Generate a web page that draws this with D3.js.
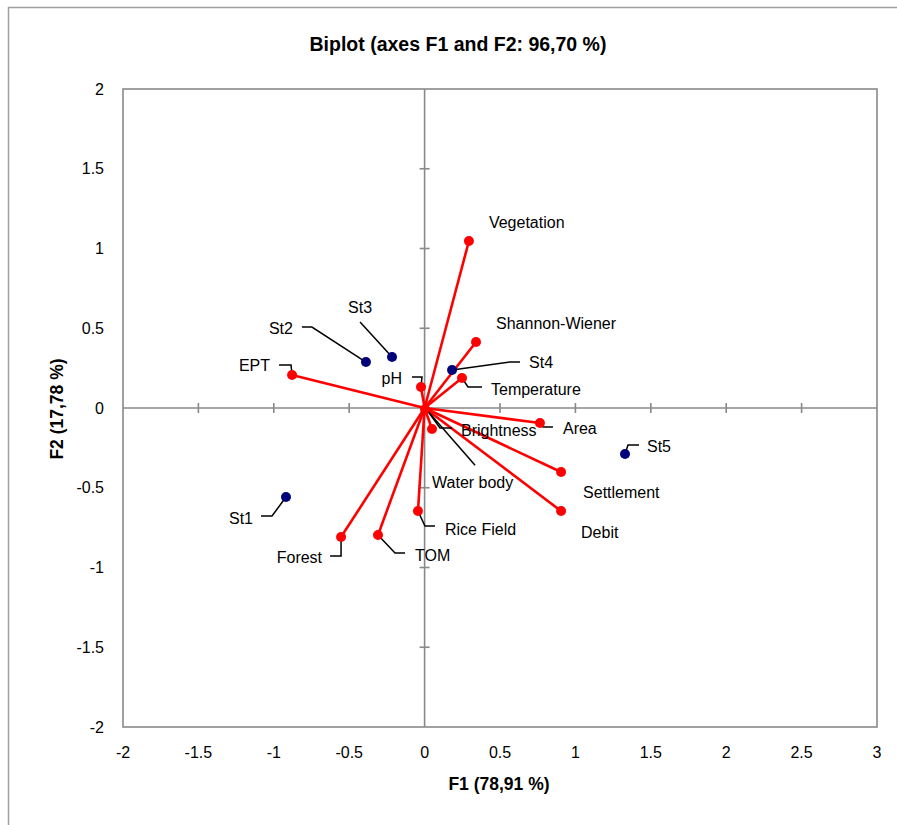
<!DOCTYPE html>
<html>
<head>
<meta charset="utf-8">
<script src="https://cdn.jsdelivr.net/npm/d3@7"></script>
<style>
  html, body { margin: 0; padding: 0; background: #fff; }
  svg { display: block; }
  text { font-family: "Liberation Sans", Arial, sans-serif; fill: #000; }
</style>
</head>
<body>
<svg id="chart" width="897" height="825"></svg>
<script>
// ---- Data ----
const variables = ["Vegetation", "Shannon-Wiener", "Temperature", "pH", "EPT", "Area", "Brightness", "Water body", "Settlement", "Debit", "Rice Field", "TOM", "Forest"];
const varF1 = [0.294, 0.341, 0.248, -0.024, -0.879, 0.765, 0.049, 0.003, 0.905, 0.905, -0.044, -0.309, -0.554];
const varF2 = [1.047, 0.414, 0.188, 0.132, 0.207, -0.094, -0.132, -0.008, -0.401, -0.646, -0.646, -0.796, -0.809];

const stations = ["St1", "St2", "St3", "St4", "St5"];
const stF1 = [-0.919, -0.389, -0.216, 0.182, 1.329];
const stF2 = [-0.558, 0.288, 0.320, 0.238, -0.288];

const xTicks = [-2, -1.5, -1, -0.5, 0, 0.5, 1, 1.5, 2, 2.5, 3];
const yTicks = [-2, -1.5, -1, -0.5, 0, 0.5, 1, 1.5, 2];
const xTickLabels = ["-2", "-1.5", "-1", "-0.5", "0", "0.5", "1", "1.5", "2", "2.5", "3"];
const yTickLabels = ["-2", "-1.5", "-1", "-0.5", "0", "0.5", "1", "1.5", "2"];

const titleText = "Biplot (axes F1 and F2: 96,70 %)";
const xTitle = "F1 (78,91 %)";
const yTitle = "F2 (17,78 %)";

// ---- Label layout (pixel offsets from each point) ----
const labelLayout = {
  "Vegetation":     { dx: 20,  dy: -13, anchor: "start", leader: null },
  "Shannon-Wiener": { dx: 20,  dy: -13, anchor: "start", leader: null },
  "Temperature":    { dx: 29,  dy: 17,  anchor: "start", leader: [[0,0],[6,9],[20,9]] },
  "pH":             { dx: -19, dy: -3,  anchor: "end",   leader: [[0,0],[1,-10],[-9,-10]] },
  "EPT":            { dx: -22, dy: -4,  anchor: "end",   leader: [[0,0],[-1,-10],[-13,-10]] },
  "Area":           { dx: 23,  dy: 11,  anchor: "start", leader: [[0,0],[3,4],[13,4]] },
  "Brightness":     { dx: 29,  dy: 7,   anchor: "start", leader: [[20,-1],[8,-1],[-5,-19]] },
  "Water body":     { dx: 7,   dy: 79,  anchor: "start", leader: [[2,1],[50,56]] },
  "Settlement":     { dx: 22,  dy: 26,  anchor: "start", leader: null },
  "Debit":          { dx: 20,  dy: 27,  anchor: "start", leader: null },
  "Rice Field":     { dx: 27,  dy: 24,  anchor: "start", leader: [[0,0],[7,15],[17,15]] },
  "TOM":            { dx: 37,  dy: 26,  anchor: "start", leader: [[0,0],[17,18],[27,18]] },
  "Forest":         { dx: -19, dy: 26,  anchor: "end",   leader: [[0,0],[0,19],[-11,19]] },
  "St1":            { dx: -33, dy: 27,  anchor: "end",   leader: [[0,0],[-14,19],[-25,19]] },
  "St2":            { dx: -73, dy: -28, anchor: "end",   leader: [[0,0],[-54,-35],[-64,-35]] },
  "St3":            { dx: -32, dy: -44, anchor: "middle",leader: [[0,0],[-32,-35]] },
  "St4":            { dx: 77,  dy: -2,  anchor: "start", leader: [[0,0],[58,-8],[68,-8]] },
  "St5":            { dx: 22,  dy: -2,  anchor: "start", leader: [[0,0],[3,-9],[14,-9]] }
};

// ---- Chart ----
const svg = d3.select("#chart");
const plot = { left: 123, right: 877, top: 89, bottom: 727 };

const x = d3.scaleLinear().domain([-2, 3]).range([plot.left, plot.right]);
const y = d3.scaleLinear().domain([-2, 2]).range([plot.bottom, plot.top]);

const gray = "#898989";

// outer chart border
svg.append("rect").attr("x", 8.5).attr("y", 7.5).attr("width", 1000).attr("height", 1000)
  .attr("fill", "none").attr("stroke", "#a0a0a0").attr("stroke-width", 1.5);

// plot area border
svg.append("rect")
  .attr("x", plot.left).attr("y", plot.top)
  .attr("width", plot.right - plot.left).attr("height", plot.bottom - plot.top)
  .attr("fill", "none").attr("stroke", gray).attr("stroke-width", 1.6);

// zero axes
svg.append("line").attr("x1", plot.left).attr("x2", plot.right).attr("y1", y(0)).attr("y2", y(0))
  .attr("stroke", gray).attr("stroke-width", 1.6);
svg.append("line").attr("x1", x(0)).attr("x2", x(0)).attr("y1", plot.top).attr("y2", plot.bottom)
  .attr("stroke", gray).attr("stroke-width", 1.6);

// tick marks crossing zero axes
svg.append("g").selectAll("line").data(xTicks.filter(t => t !== 0 && t !== -2 && t !== 3)).join("line")
  .attr("x1", d => x(d)).attr("x2", d => x(d)).attr("y1", y(0) - 5).attr("y2", y(0) + 5)
  .attr("stroke", gray).attr("stroke-width", 1.6);
svg.append("g").selectAll("line").data(yTicks.filter(t => t !== 0 && t !== -2 && t !== 2)).join("line")
  .attr("y1", d => y(d)).attr("y2", d => y(d)).attr("x1", x(0) - 5).attr("x2", x(0) + 5)
  .attr("stroke", gray).attr("stroke-width", 1.6);

// tick labels
svg.append("g").selectAll("text").data(xTicks).join("text")
  .attr("x", d => x(d)).attr("y", 752).attr("dy", "0.35em")
  .attr("text-anchor", "middle").attr("font-size", 16)
  .text((d, i) => xTickLabels[i]);
svg.append("g").selectAll("text").data(yTicks).join("text")
  .attr("x", 104).attr("y", d => y(d)).attr("dy", "0.35em")
  .attr("text-anchor", "end").attr("font-size", 16)
  .text((d, i) => yTickLabels[i]);

// titles
svg.append("text").attr("x", 458).attr("y", 44).attr("dy", "0.35em")
  .attr("text-anchor", "middle").attr("font-size", 19.5).attr("font-weight", "bold").text(titleText);
svg.append("text").attr("x", 499).attr("y", 784).attr("dy", "0.35em")
  .attr("text-anchor", "middle").attr("font-size", 17.5).attr("font-weight", "bold").text(xTitle);
svg.append("text").attr("transform", "translate(57,409) rotate(-90)").attr("dy", "0.35em")
  .attr("text-anchor", "middle").attr("font-size", 17.5).attr("font-weight", "bold").text(yTitle);

// data
const varData = variables.map((n, i) => ({ name: n, f1: varF1[i], f2: varF2[i], type: "var" }));
const stData = stations.map((n, i) => ({ name: n, f1: stF1[i], f2: stF2[i], type: "obs" }));
const allData = varData.concat(stData);

// red vectors
svg.append("g").selectAll("line").data(varData).join("line")
  .attr("x1", x(0)).attr("y1", y(0))
  .attr("x2", d => x(d.f1)).attr("y2", d => y(d.f2))
  .attr("stroke", "#ff0000").attr("stroke-width", 2.6);

// leader lines
const lineGen = d3.line();
svg.append("g").selectAll("path").data(allData.filter(d => labelLayout[d.name].leader)).join("path")
  .attr("d", d => lineGen(labelLayout[d.name].leader.map(p => [x(d.f1) + p[0], y(d.f2) + p[1]])))
  .attr("fill", "none").attr("stroke", "#000").attr("stroke-width", 1.5);

// points
svg.append("g").selectAll("circle").data(varData).join("circle")
  .attr("cx", d => x(d.f1)).attr("cy", d => y(d.f2)).attr("r", 5)
  .attr("fill", "#ff0000");
svg.append("g").selectAll("circle").data(stData).join("circle")
  .attr("cx", d => x(d.f1)).attr("cy", d => y(d.f2)).attr("r", 5)
  .attr("fill", "#00007a");

// labels
svg.append("g").selectAll("text").data(allData).join("text")
  .attr("x", d => x(d.f1) + labelLayout[d.name].dx)
  .attr("y", d => y(d.f2) + labelLayout[d.name].dy)
  .attr("text-anchor", d => labelLayout[d.name].anchor)
  .attr("font-size", 16)
  .text(d => d.name);
</script>
</body>
</html>
